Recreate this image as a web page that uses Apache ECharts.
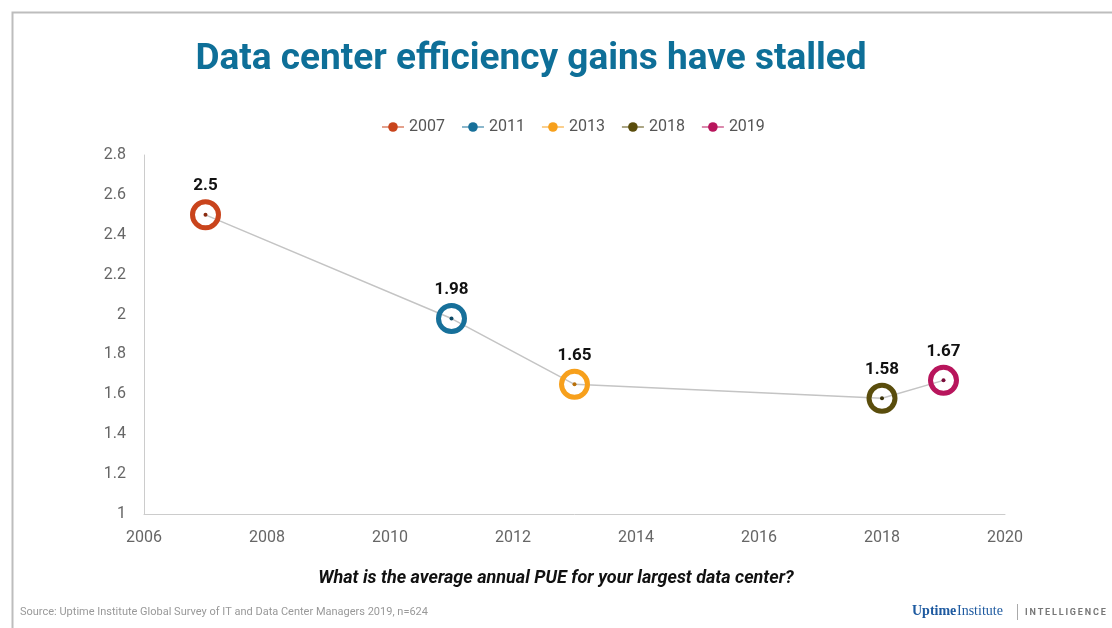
<!DOCTYPE html>
<html><head><meta charset="utf-8">
<script src="https://cdn.jsdelivr.net/npm/echarts@6/dist/echarts.min.js"></script>
<style>html,body{margin:0;padding:0;background:#fff}#c{width:1112px;height:628px}</style>
</head><body><div id="c"></div>
<script>
const years = [2007, 2011, 2013, 2018, 2019];
const pue = [2.5, 1.98, 1.65, 1.58, 1.67];
const seriesNames = ['2007', '2011', '2013', '2018', '2019'];
const colors = ['#c9441c', '#17709a', '#f7a01c', '#5a4d0c', '#b8155c'];
const dotColors = ['#8a2a10', '#0e4a66', '#b8700a', '#3a320a', '#7a0c3a'];
const yTicks = {min: 1, max: 2.8, interval: 0.2};
const xTicks = {min: 2006, max: 2020, interval: 2};

const chart = echarts.init(document.getElementById('c'));
const series = [{
  name: 'PUE', type: 'line', z: 1,
  data: years.map((y, i) => ({value: [y, pue[i]], itemStyle: {color: dotColors[i]}})),
  symbol: 'circle', symbolSize: 4, showSymbol: true,
  lineStyle: {color: '#c4c4c4', width: 1.5},
  itemStyle: {color: '#555'}, silent: true
}];
seriesNames.forEach((n, i) => {
  series.push({
    name: n, type: 'line', z: 3,
    data: [[years[i], pue[i]]],
    symbol: 'circle', symbolSize: 26,
    itemStyle: {color: 'rgba(255,255,255,0)', borderColor: colors[i], borderWidth: 5},
    lineStyle: {color: colors[i]},
    label: {show: true, position: 'top', distance: 5, color: '#111', fontWeight: 'bold', fontSize: 17, fontFamily: 'Roboto',
      formatter: p => String(p.value[1])}
  });
});
chart.setOption({
  animation: false,
  backgroundColor: '#fff',
  title: {text: 'Data center efficiency gains have stalled', left: 526, textAlign: 'center', top: 36,
    textStyle: {color: '#0e6f98', fontSize: 37, fontWeight: 'bold', fontFamily: 'Roboto'}},
  legend: {
    data: seriesNames.map((n, i) => ({name: n, itemStyle: {color: colors[i], borderWidth: 0}, lineStyle: {color: colors[i], opacity: 0.5}})),
    left: 376, top: 114, itemGap: 16, itemWidth: 22, itemHeight: 12,
    textStyle: {color: '#555', fontSize: 16, fontFamily: 'Roboto'}
  },
  grid: {left: 144, right: 107, top: 155, bottom: 114},
  xAxis: {type: 'value', min: xTicks.min, max: xTicks.max, interval: xTicks.interval,
    axisLine: {lineStyle: {color: '#ccc'}}, axisTick: {show: false}, splitLine: {show: false},
    axisLabel: {color: '#666', fontSize: 16, fontFamily: 'Roboto', margin: 16, formatter: v => String(v)}},
  yAxis: {type: 'value', min: yTicks.min, max: yTicks.max, interval: yTicks.interval,
    axisLine: {show: true, lineStyle: {color: '#ccc'}}, axisTick: {show: false}, splitLine: {show: false},
    axisLabel: {color: '#666', fontSize: 16, fontFamily: 'Roboto', margin: 18}},
  graphic: [
    {type: 'rect', left: 10, top: 10, shape: {width: 1200, height: 700}, style: {fill: 'none', stroke: '#bdbdbd', lineWidth: 2}, silent: true},
    {type: 'text', left: 'center', top: 569, style: {text: 'What is the average annual PUE for your largest data center?', fill: '#111', font: 'italic bold 18px Roboto'}},
    {type: 'text', left: 20, top: 607, style: {text: 'Source: Uptime Institute Global Survey of IT and Data Center Managers 2019, n=624', fill: '#999', font: '11px Roboto'}},
    {type: 'text', left: 912, top: 604, style: {text: 'Uptime', fill: '#1e5aa0', font: 'bold 14px "Liberation Serif"'}},
    {type: 'text', left: 957, top: 604, style: {text: 'Institute', fill: '#1e5aa0', font: '14px "Liberation Serif"'}},
    {type: 'rect', left: 1017, top: 604, shape: {width: 1, height: 16}, style: {fill: '#aaa'}},
    {type: 'text', left: 1025, top: 608, style: {text: 'I\u2009N\u2009T\u2009E\u2009L\u2009L\u2009I\u2009G\u2009E\u2009N\u2009C\u2009E', fill: '#777', font: 'bold 9px Roboto'}}
  ],
  series: series
});
</script></body></html>
